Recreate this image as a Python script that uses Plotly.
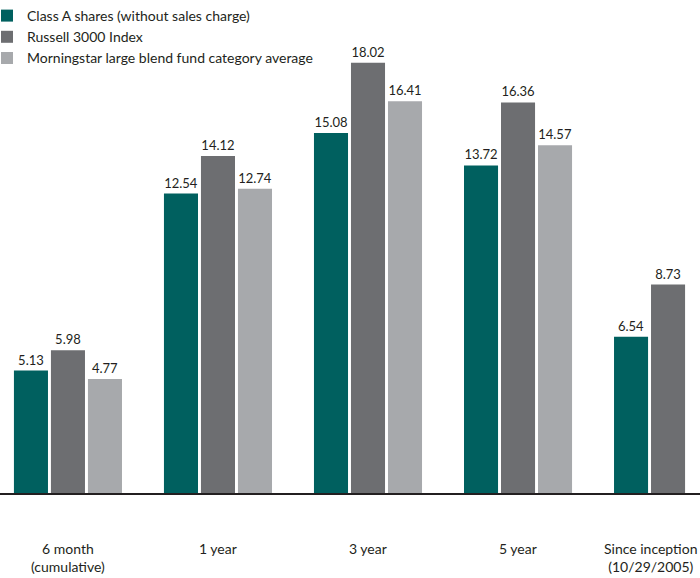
import plotly.graph_objects as go

categories = ["6 month<br>(cumulative)", "1 year", "3 year", "5 year", "Since inception<br>(10/29/2005)"]
class_a = [5.13, 12.54, 15.08, 13.72, 6.54]
russell = [5.98, 14.12, 18.02, 16.36, 8.73]
morningstar = [4.77, 12.74, 16.41, 14.57, None]

series_names = [
    "Class A shares (without sales charge)",
    "Russell 3000 Index",
    "Morningstar large blend fund category average",
]
colors = ["#00605F", "#6D6E71", "#A7A9AC"]
label_xshift = [0, 0, 0, 0, -17]

FONT = "Lato, Arial, sans-serif"

fig = go.Figure()
for name, vals, col in zip(series_names, [class_a, russell, morningstar], colors):
    fig.add_trace(go.Bar(
        x=categories, y=vals, name=name,
        marker=dict(color=col, line=dict(width=0)),
        texttemplate="%{y:.2f}", textposition="outside",
        textfont=dict(size=13, color="#231F20", family=FONT),
        constraintext="none",
        cliponaxis=False,
    ))

for cat, dx in zip(categories, label_xshift):
    fig.add_annotation(
        x=cat, xref="x", y=0, yref="paper",
        text=cat, showarrow=False, xanchor="center", yanchor="top",
        yshift=-45, xshift=dx, align="center",
        font=dict(size=14, family=FONT, color="#231F20"),
    )

fig.update_layout(
    width=700, height=578,
    margin=dict(l=0, r=0, t=0, b=85),
    paper_bgcolor="white", plot_bgcolor="white",
    barmode="group", bargap=0.26, bargroupgap=0.08,
    font=dict(family=FONT, size=14, color="#231F20"),
    showlegend=True,
    legend=dict(
        x=0, y=1.0, indentation=-13,
        xanchor="left", yanchor="top",
        font=dict(size=14, family=FONT, color="#231F20"),
        bgcolor="rgba(0,0,0,0)", tracegroupgap=0,
    ),
    xaxis=dict(
        range=[-0.453, 4.213], showline=True, linecolor="#231F20", linewidth=1.5,
        ticks="", showgrid=False, zeroline=False, fixedrange=True,
        showticklabels=False, automargin=False,
    ),
    yaxis=dict(range=[0, 20.65], visible=False, showgrid=False, zeroline=False,
               fixedrange=True, automargin=False),
)

fig.write_html(
    "out.html",
    config={"displayModeBar": False},
    post_script="document.body.style.margin='0px';document.body.style.overflow='hidden';",
)
